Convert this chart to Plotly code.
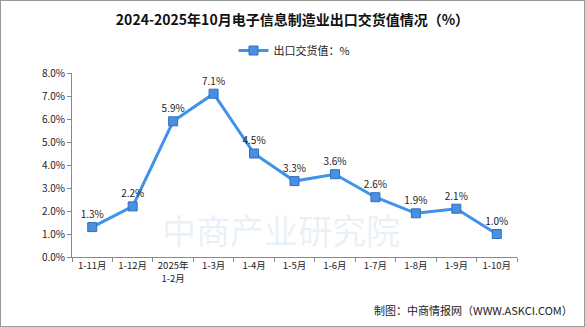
import plotly.graph_objects as go

categories = ["1-11月", "1-12月", "2025年<br>1-2月", "1-3月", "1-4月", "1-5月", "1-6月", "1-7月", "1-8月", "1-9月", "1-10月"]
values = [1.3, 2.2, 5.9, 7.1, 4.5, 3.3, 3.6, 2.6, 1.9, 2.1, 1.0]
labels = [f"{v:.1f}%" for v in values]
y_ticks = [0, 1, 2, 3, 4, 5, 6, 7, 8]
y_tick_text = [f"{t:.1f}%" for t in y_ticks]

font_family = "Noto Sans CJK SC, DejaVu Sans"

fig = go.Figure()
fig.add_trace(go.Scatter(
    x=categories, y=values, mode="lines+markers+text",
    name="出口交货值：%",
    line=dict(color="#3f93ea", width=3),
    marker=dict(symbol="square", size=9, color="#4a90e2", line=dict(color="#2f6fba", width=1)),
    text=labels, textposition="top center",
    textfont=dict(size=10, color="#222222", family=font_family),
))

fig.update_layout(
    width=585, height=327,
    margin=dict(l=72, r=68, t=73, b=70, autoexpand=False),
    paper_bgcolor="white", plot_bgcolor="white",
    font=dict(family=font_family, size=10, color="#222222"),
    title=dict(text="<b>2024-2025年10月电子信息制造业出口交货值情况（%）</b>",
               x=0.5, xanchor="center", y=1 - 20/327, yanchor="middle",
               font=dict(size=14, color="#111111", family=font_family)),
    showlegend=True,
    legend=dict(orientation="h", x=0.5, xanchor="center", y=1 - 36/327, yref="container",
                yanchor="top", font=dict(size=11), bgcolor="rgba(0,0,0,0)"),
    xaxis=dict(type="category", range=[-0.5, len(categories) - 0.5],
               showline=True, linecolor="#888888", linewidth=1,
               ticks="outside", tickcolor="#888888", ticklen=4, tickson="boundaries",
               showgrid=False, tickangle=0, automargin=False, tickfont=dict(size=9.5)),
    yaxis=dict(range=[0, 8], tickvals=y_ticks, ticktext=y_tick_text, showline=True,
               linecolor="#888888", linewidth=1, ticks="outside", tickcolor="#888888",
               ticklen=4, showgrid=False, zeroline=False, automargin=False,
               tickfont=dict(size=10)),
    shapes=[dict(type="rect", xref="paper", yref="paper", x0=-72/445, x1=1+68/445,
                 y0=-70/184, y1=1+73/184, line=dict(color="#999999", width=2),
                 fillcolor="rgba(0,0,0,0)")],
    annotations=[
        dict(text="制图：中商情报网（WWW.ASKCI.COM）", xref="paper", yref="paper",
             x=1+58/445, y=-53/184, xanchor="right", yanchor="middle", showarrow=False,
             font=dict(size=11, color="#222222")),
        dict(text="中商产业研究院", xref="paper", yref="paper", x=0.47, y=0.005,
             xanchor="center", yanchor="bottom", showarrow=False,
             font=dict(size=34, color="rgba(120,170,210,0.18)")),
    ],
)

fig.write_html("out.html")
